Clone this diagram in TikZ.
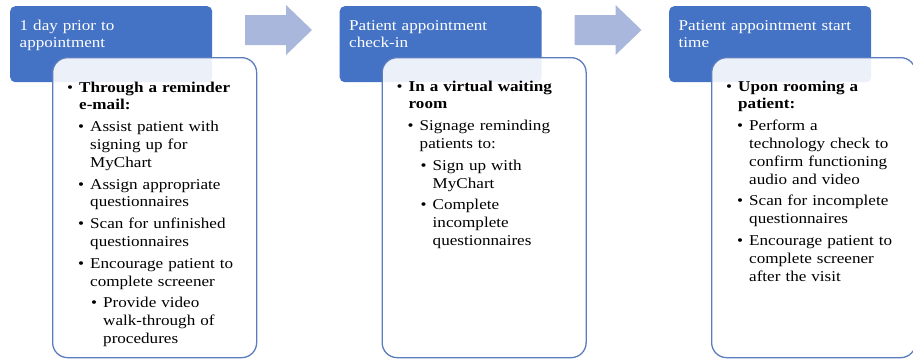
\documentclass[tikz,border=0pt]{standalone}
\usepackage{fontspec}
\setmainfont[FakeStretch=1.14]{Liberation Serif}
\definecolor{hdrblue}{HTML}{4472C4}
\definecolor{arrowblue}{HTML}{A9B7DC}
\definecolor{edgeblue}{HTML}{5B7DBF}
\newcommand\itm[3]{\par\vskip#2\noindent\hangindent=#1\hangafter=1\hspace*{#1}\llap{\textbullet\hspace{6pt}}#3\par}
\tikzset{
 hdrbox/.style={draw=none, fill=hdrblue, rounded corners=5pt, minimum width=202pt, minimum height=76pt, inner sep=0pt, anchor=north west},
 bodybox/.style={draw=edgeblue, line width=1.3pt, fill=white, fill opacity=0.9, rounded corners=15pt, minimum width=204pt, minimum height=300pt, anchor=north west, inner sep=0pt},
 hdrtext/.style={text=white, anchor=north west, inner sep=0pt, text width=195pt, font=\fontsize{15}{17}\selectfont},
 bodytext/.style={anchor=north west, inner sep=0pt, text width=204pt, font=\fontsize{15}{17.8}\selectfont},
 stagearrow/.style={fill=arrowblue, draw=none}
}
\begin{document}
\begin{tikzpicture}[x=1pt,y=-1pt]
\useasboundingbox (0,0) rectangle (913,360);
% arrows between stages
\path[stagearrow] (245,15) -- (286,15) -- (286,5) -- (312,30) -- (286,55) -- (286,45) -- (245,45) -- cycle;
\path[stagearrow] (574.5,15) -- (615.5,15) -- (615.5,5) -- (641.5,30) -- (615.5,55) -- (615.5,45) -- (574.5,45) -- cycle;
% header boxes
\node[hdrbox] (h1) at (10,6) {};
\node[hdrbox] (h2) at (339.5,6) {};
\node[hdrbox] (h3) at (669,6) {};
\node[hdrtext] (t1) at (19.5,17.5) {\raggedright\rule{0pt}{13pt}1 day prior to\newline appointment};
\node[hdrtext] (t2) at (349,17.5) {\raggedright\rule{0pt}{13pt}Patient appointment\newline check-in};
\node[hdrtext] (t3) at (678.5,17.5) {\raggedright\rule{0pt}{13pt}Patient appointment start\newline time};
% body boxes
\node[bodybox] (b1) at (52,57) {};
\node[bodybox] (b2) at (381.5,57) {};
\node[bodybox] (b3) at (711,57) {};
% body texts
\node[bodytext] (c1) at (52,74) {\raggedright
\itm{27pt}{0pt}{\rule{0pt}{13pt}\textbf{Through a reminder\newline e-mail:}}%
\itm{38pt}{4pt}{Assist patient with\newline signing up for\newline MyChart}%
\itm{38pt}{4pt}{Assign appropriate\newline questionnaires}%
\itm{38pt}{4pt}{Scan for unfinished\newline questionnaires}%
\itm{38pt}{4pt}{Encourage patient to\newline complete screener}%
\itm{51pt}{4pt}{Provide video\newline walk-through of\newline procedures}};
\node[bodytext] (c2) at (381.5,73) {\raggedright
\itm{27pt}{0pt}{\rule{0pt}{13pt}\textbf{In a virtual waiting\newline room}}%
\itm{38pt}{4pt}{Signage reminding\newline patients to:}%
\itm{51pt}{4pt}{Sign up with\newline MyChart}%
\itm{51pt}{4pt}{Complete\newline incomplete\newline questionnaires}};
\node[bodytext] (c3) at (711,73) {\raggedright
\itm{27pt}{0pt}{\rule{0pt}{13pt}\textbf{Upon rooming a\newline patient:}}%
\itm{38pt}{4pt}{Perform a\newline technology check to\newline confirm functioning\newline audio and video}%
\itm{38pt}{4pt}{Scan for incomplete\newline questionnaires}%
\itm{38pt}{4pt}{Encourage patient to\newline complete screener\newline after the visit}};
\end{tikzpicture}
\end{document}
